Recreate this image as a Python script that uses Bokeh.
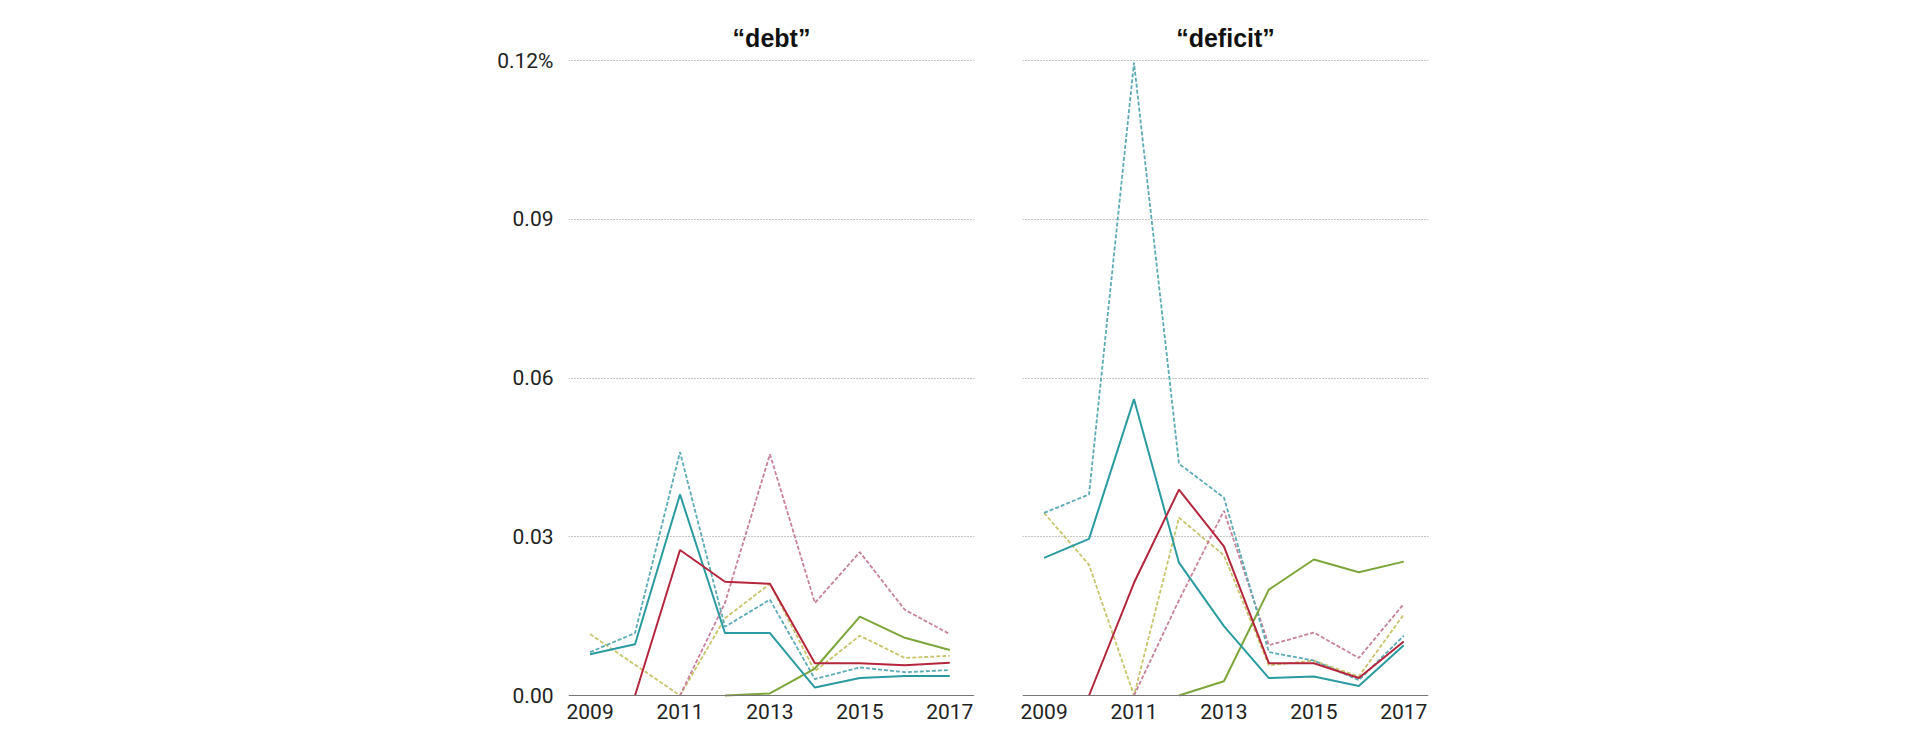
from bokeh.plotting import figure
from bokeh.layouts import row
from bokeh.models import Range1d, FixedTicker, Span
from bokeh.embed import file_html
from bokeh.resources import INLINE

nan = float("nan")

years = [2009, 2010, 2011, 2012, 2013, 2014, 2015, 2016, 2017]
x_ticks = [2009, 2011, 2013, 2015, 2017]
y_ticks = [0.0, 0.03, 0.06, 0.09, 0.12]
y_tick_labels = ["0.00", "0.03", "0.06", "0.09", "0.12%"]
panel_titles = ["\u201cdebt\u201d", "\u201cdeficit\u201d"]

# "debt" panel
debt_teal_solid = [0.0078, 0.0097, 0.0380, 0.0118, 0.0118, 0.0015, 0.0033, 0.0037, 0.0037]
debt_teal_dash = [0.0082, 0.0118, 0.0460, 0.0130, 0.0181, 0.0031, 0.0053, 0.0044, 0.0048]
debt_red_solid = [nan, 0.0, 0.0275, 0.0215, 0.0211, 0.0061, 0.0061, 0.0057, 0.0062]
debt_red_dash = [nan, nan, 0.0, 0.0175, 0.0456, 0.0175, 0.0271, 0.0162, 0.0116]
debt_green_solid = [nan, nan, nan, 0.0, 0.0004, 0.0051, 0.0149, 0.0109, 0.0086]
debt_green_dash = [0.0116, 0.0058, 0.0, 0.0146, 0.0211, 0.0046, 0.0113, 0.0071, 0.0075]

# "deficit" panel
deficit_teal_solid = [0.0260, 0.0296, 0.0560, 0.0251, 0.0131, 0.0033, 0.0036, 0.0018, 0.0095]
deficit_teal_dash = [0.0345, 0.0380, 0.1196, 0.0438, 0.0374, 0.0082, 0.0066, 0.0029, 0.0113]
deficit_red_solid = [nan, 0.0, 0.0213, 0.0389, 0.0282, 0.0061, 0.0061, 0.0033, 0.0102]
deficit_red_dash = [nan, nan, 0.0, 0.0180, 0.0349, 0.0095, 0.0119, 0.0071, 0.0173]
deficit_green_solid = [nan, nan, nan, 0.0, 0.0027, 0.0200, 0.0257, 0.0233, 0.0253]
deficit_green_dash = [0.0345, 0.0247, 0.0, 0.0336, 0.0265, 0.0057, 0.0066, 0.0036, 0.0153]

TEAL = "#2a9ba0"
TEAL_L = "#5aabb5"
RED = "#b5263d"
RED_L = "#c9809a"
GREEN = "#7ca53a"
GREEN_L = "#c8c46a"

FONT = "Roboto"
PER_PX = 0.12 / 635.0


def make_panel(title, series, show_y, left, right):
    p = figure(
        frame_width=406, frame_height=640,
        min_border_left=left, min_border_right=right,
        min_border_top=57, min_border_bottom=34,
        x_range=Range1d(2008.52, 2017.55),
        y_range=Range1d(-2 * PER_PX, 0.12 + 3 * PER_PX),
        output_backend="svg", toolbar_location=None,
        background_fill_color="white", border_fill_color="white",
        outline_line_color=None,
    )
    p.title.text = title
    p.title.align = "center"
    p.title.text_font = "Liberation Sans"
    p.title.text_font_style = "bold"
    p.title.text_font_size = "25px"
    p.title.text_color = "#111111"
    p.title.standoff = 11

    p.xgrid.visible = False
    p.ygrid.ticker = FixedTicker(ticks=[0.03, 0.06, 0.09, 0.12])
    p.ygrid.grid_line_color = "#8a8a8a"
    p.ygrid.grid_line_dash = "1 2"
    p.ygrid.grid_line_width = 1

    xa = p.xaxis[0]
    xa.ticker = FixedTicker(ticks=x_ticks)
    xa.axis_line_color = None
    xa.major_tick_line_color = None
    xa.minor_tick_line_color = None
    xa.major_label_standoff = 0
    xa.major_label_text_font = FONT
    xa.major_label_text_font_size = "21px"
    xa.major_label_text_color = "#222222"

    ya = p.yaxis[0]
    if show_y:
        ya.ticker = FixedTicker(ticks=y_ticks)
        ya.major_label_overrides = {t: l for t, l in zip(y_ticks, y_tick_labels)}
        ya.axis_line_color = None
        ya.major_tick_line_color = None
        ya.minor_tick_line_color = None
        ya.major_label_standoff = 9
        ya.major_label_text_font = FONT
        ya.major_label_text_font_size = "21px"
        ya.major_label_text_color = "#222222"
    else:
        ya.visible = False

    p.add_layout(Span(location=0, dimension="width", line_color="#777777", line_width=1.2))

    teal_s, teal_d, red_s, red_d, green_s, green_d = series
    for vals, col in [(green_d, GREEN_L), (red_d, RED_L), (teal_d, TEAL_L)]:
        p.line(years, vals, line_color=col, line_width=1.8, line_dash="4 2")
    for vals, col in [(green_s, GREEN), (teal_s, TEAL), (red_s, RED)]:
        p.line(years, vals, line_color=col, line_width=2)
    return p


p1 = make_panel(panel_titles[0],
                [debt_teal_solid, debt_teal_dash, debt_red_solid, debt_red_dash,
                 debt_green_solid, debt_green_dash], True, 568, 24)
p2 = make_panel(panel_titles[1],
                [deficit_teal_solid, deficit_teal_dash, deficit_red_solid, deficit_red_dash,
                 deficit_green_solid, deficit_green_dash], False, 24, 24)

layout = row(p1, p2)
open("out.html", "w").write(file_html(layout, INLINE))
